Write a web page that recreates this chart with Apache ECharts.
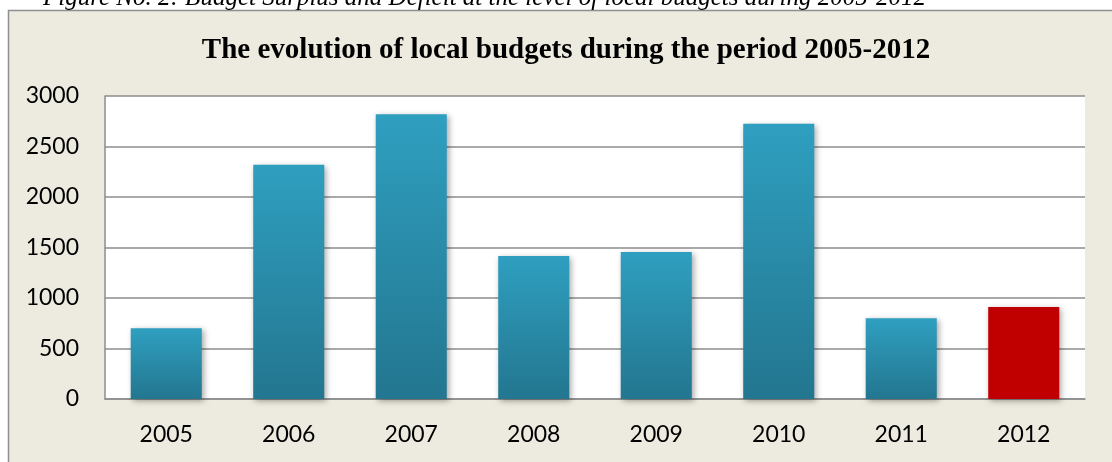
<!DOCTYPE html>
<html>
<head>
<meta charset="utf-8">
<script src="https://cdn.jsdelivr.net/npm/echarts@6/dist/echarts.min.js"></script>
<style>
html,body{margin:0;padding:0;background:#fff;}
#c{width:1112px;height:462px;}
</style>
</head>
<body>
<div id="c"></div>
<script>
const categories = ['2005','2006','2007','2008','2009','2010','2011','2012'];
const values = [700, 2320, 2820, 1415, 1455, 2725, 800, 910];
const yTicks = [0, 500, 1000, 1500, 2000, 2500, 3000];
const highlightYear = '2012';
const titleText = 'The evolution of local budgets during the period 2005-2012';
const captionText = 'Figure No. 2: Budget Surplus and Deficit at the level of local budgets during 2005-2012';

const chart = echarts.init(document.getElementById('c'), null, {renderer:'canvas'});

const teal = new echarts.graphic.LinearGradient(0,0,0,1,[
  {offset:0,color:'#2F9FC0'},
  {offset:1,color:'#23768F'}
]);

const data = values.map((v,i)=>({
  value:v,
  itemStyle: categories[i]===highlightYear ? {color:'#C00000'} : {color:teal}
}));

chart.setOption({
  backgroundColor:'#ffffff',
  animation:false,
  graphic:[
    {type:'rect', z:-10, shape:{x:8.5,y:10.5,width:1120,height:470},
     style:{fill:'#EDEADF',stroke:'#8F8F8F',lineWidth:1.5}},
    {type:'text', z:10, x:43, y:-2,
     style:{text:captionText, font:'italic 25px "Liberation Serif"', fill:'#000', verticalAlign:'middle'}}
  ],
  title:{
    text:titleText, left:561, top:31, textAlign:'center',
    textStyle:{fontFamily:'Liberation Serif', fontWeight:'bold', fontSize:29, color:'#000'}
  },
  grid:{left:105, right:27, top:96, bottom:63, show:true, backgroundColor:'#fff', borderWidth:0},
  xAxis:{
    type:'category', data:categories,
    axisLine:{show:true, lineStyle:{color:'#8C8C8C', width:1.5}},
    axisTick:{show:false},
    axisLabel:{fontFamily:'Lato', fontSize:23, color:'#000', margin:24}
  },
  yAxis:{
    type:'value', min:0, max:3000, interval:500,
    axisLine:{show:true, lineStyle:{color:'#8C8C8C', width:1.5}},
    axisTick:{show:false},
    splitLine:{lineStyle:{color:'#8C8C8C', width:1.5}},
    axisLabel:{fontFamily:'Lato', fontSize:23, color:'#000', margin:26,
      formatter:v=> yTicks.includes(v) ? String(v) : ''}
  },
  series:[{
    type:'bar', data:data, barWidth:'58%',
    itemStyle:{shadowBlur:6, shadowColor:'rgba(0,0,0,0.35)', shadowOffsetX:2, shadowOffsetY:2}
  }]
});
</script>
</body>
</html>
